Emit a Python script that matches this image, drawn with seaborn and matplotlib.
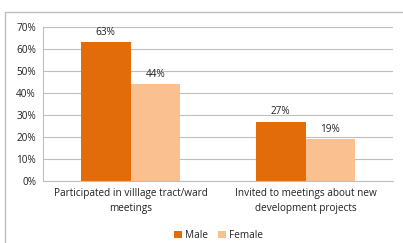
import matplotlib
matplotlib.use("Agg")
import matplotlib.pyplot as plt
import seaborn as sns
import pandas as pd
from matplotlib.patches import Rectangle

categories = ["Participated in villlage tract/ward\nmeetings",
              "Invited to meetings about new\ndevelopment projects"]
male = [63, 27]
female = [44, 19]
series = ["Male", "Female"]
colors = ["#E36C0A", "#FAC090"]
yticks = [0, 10, 20, 30, 40, 50, 60, 70]

df = pd.DataFrame({
    "cat": categories * 2,
    "val": male + female,
    "sex": ["Male"] * 2 + ["Female"] * 2,
})

sns.set_style("white")
plt.rcParams['font.family'] = ['Open Sans', 'DejaVu Sans']
FS = 7.2

fig = plt.figure(figsize=(4.03, 2.43), dpi=100)
fig.patches.append(Rectangle((5/403, -0.1), 1.2, 1 - 12/243 + 0.1, transform=fig.transFigure,
                             fill=False, edgecolor="#BFBFBF", linewidth=1.0))
ax = fig.add_axes([43/403, 1 - 181/243, 350/403, 154/243])

sns.barplot(data=df, x="cat", y="val", hue="sex", hue_order=series,
            palette=colors, width=0.57, ax=ax, legend=True, saturation=1,
            linewidth=0, edgecolor="none")

for cont in ax.containers:
    ax.bar_label(cont, labels=[f"{int(v)}%" for v in cont.datavalues],
                 fontsize=FS, padding=3, color="#222222")

ax.set_ylim(0, 70)
ax.set_xlim(-0.5, 1.5)
ax.set_yticks(yticks)
ax.set_yticklabels([f"{t}%" for t in yticks], fontsize=FS, color="#222222")
ax.set_xticks([0, 1])
ax.set_xticklabels(categories, fontsize=FS, color="#222222", linespacing=1.5)
ax.set_xlabel("")
ax.set_ylabel("")
ax.yaxis.grid(True, color="#BFBFBF", linewidth=0.8)
ax.set_axisbelow(True)
for s in ["top", "right"]:
    ax.spines[s].set_visible(False)
ax.spines["left"].set_color("#BFBFBF")
ax.spines["bottom"].set_color("#BFBFBF")
ax.tick_params(axis="y", length=3, color="#BFBFBF", pad=2)
ax.tick_params(axis="x", length=0, pad=5)
ax.set_xticks([0.5], minor=True)
ax.tick_params(axis="x", which="minor", length=3, color="#BFBFBF")

ax.legend(loc="upper center", bbox_to_anchor=(0.5, -0.26), ncol=2, frameon=False,
          fontsize=FS, handlelength=0.8, handleheight=0.8, handletextpad=0.3,
          columnspacing=1.0)

fig.savefig("out.png", dpi=100)
